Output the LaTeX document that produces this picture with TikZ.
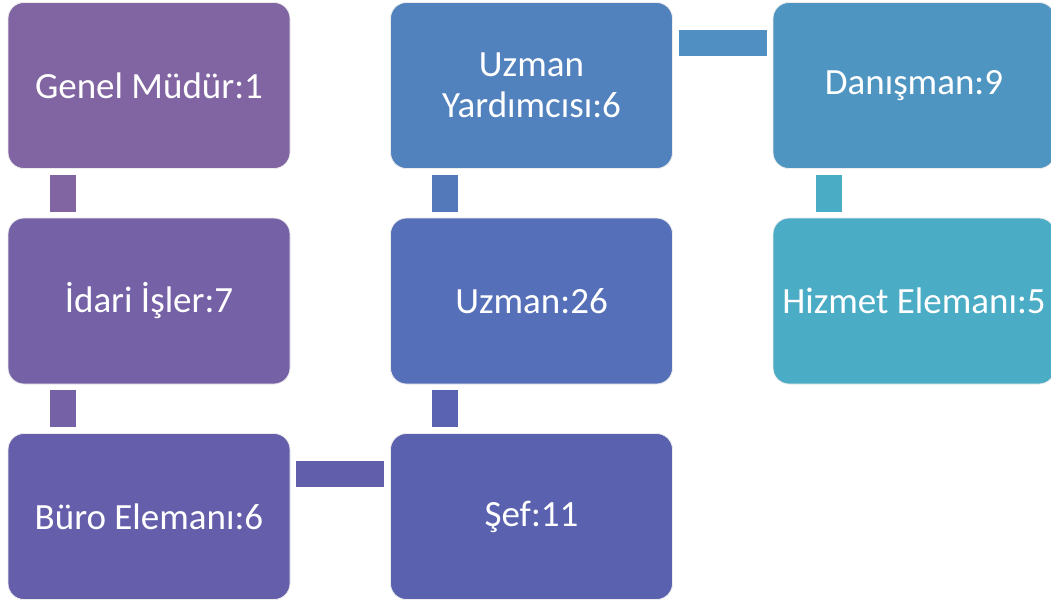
\documentclass[tikz,border=0pt]{standalone}
\usepackage{fontspec}
\setmainfont{Carlito}
\usepackage{xcolor}
\usepackage{tikz}

\definecolor{genelc}{HTML}{8065A2}
\definecolor{idaric}{HTML}{7561A6}
\definecolor{buroc}{HTML}{645EAB}
\definecolor{sefc}{HTML}{5A62B0}
\definecolor{uzmanc}{HTML}{5570B8}
\definecolor{yardc}{HTML}{5282BE}
\definecolor{danisc}{HTML}{4F95C2}
\definecolor{hizmetc}{HTML}{4BACC6}

\begin{document}
\begin{tikzpicture}[x=1pt, y=-1pt,
	box/.style={rectangle, rounded corners=16pt, draw=white!85!gray, line width=0.8pt,
		minimum width=282pt, minimum height=166pt, inner sep=0pt,
		text=white, align=center, font=\fontsize{37}{41}\selectfont},
	bar/.style={line width=26pt, shorten <=6pt, shorten >=6pt}]
	\useasboundingbox (0,0) rectangle (1051,606);
	
	\node[box, fill=genelc] (genel) at (149,85.5) {Genel Müdür:1};
	\node[box, fill=idaric] (idari) at (149,301) {İdari İşler:7};
	\node[box, fill=buroc] (buro) at (149,516.5) {Büro Elemanı:6};
	\node[box, fill=sefc] (sef) at (531.5,516.5) {Şef:11};
	\node[box, fill=uzmanc] (uzman) at (531.5,301) {Uzman:26};
	\node[box, fill=yardc] (yard) at (531.5,85.5) {Uzman\\Yardımcısı:6};
	\node[box, fill=danisc] (danis) at (914,85.5) {Danışman:9};
	\node[box, fill=hizmetc] (hizmet) at (914,301) {Hizmet Elemanı:5};
	
	\draw[bar, genelc!95!idaric] ([xshift=55pt]genel.south west) -- ([xshift=55pt]idari.north west);
	\draw[bar, idaric] ([xshift=55pt]idari.south west) -- ([xshift=55pt]buro.north west);
	\draw[bar, buroc!70!sefc] ([yshift=-41pt]buro.north east) -- ([yshift=-41pt]sef.north west);
	\draw[bar, sefc!90!uzmanc] ([xshift=55pt]sef.north west) -- ([xshift=55pt]uzman.south west);
	\draw[bar, uzmanc!50!yardc] ([xshift=55pt]uzman.north west) -- ([xshift=55pt]yard.south west);
	\draw[bar, yardc!30!danisc] ([yshift=-41pt]yard.north east) -- ([yshift=-41pt]danis.north west);
	\draw[bar, hizmetc] ([xshift=56pt]danis.south west) -- ([xshift=56pt]hizmet.north west);
\end{tikzpicture}
\end{document}
